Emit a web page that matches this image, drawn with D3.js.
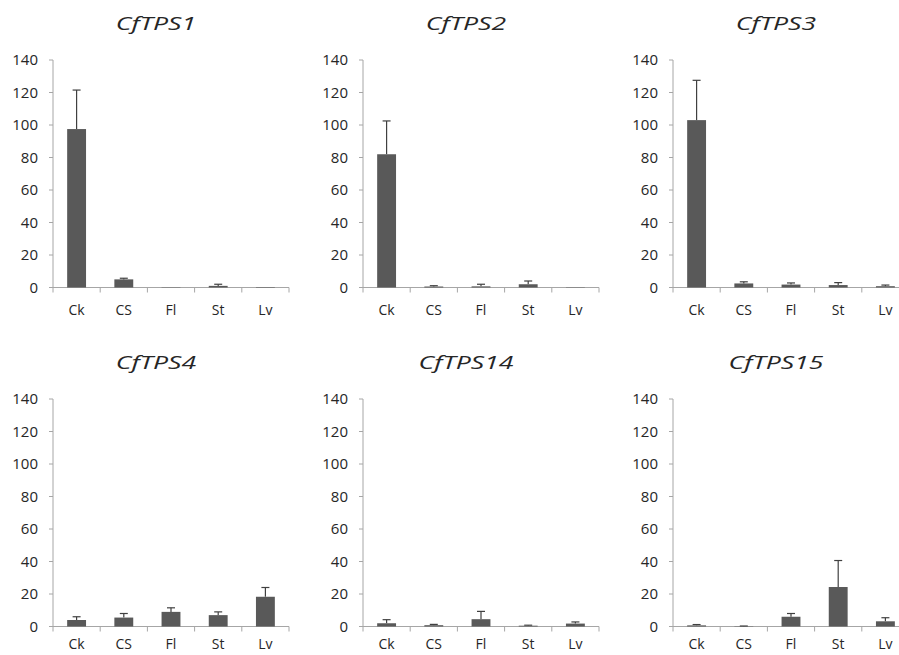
<!DOCTYPE html>
<html>
<head>
<meta charset="utf-8">
<script src="https://cdn.jsdelivr.net/npm/d3@7"></script>
<style>
  body { margin: 0; background: #fff; }
  text { font-family: "Open Sans", sans-serif; fill: #262626; }
</style>
</head>
<body>
<div id="vis"></div>
<script>
var width = 899;
var height = 655;

var genes = ['CfTPS1', 'CfTPS2', 'CfTPS3', 'CfTPS4', 'CfTPS14', 'CfTPS15'];
var tissues = ['Ck', 'CS', 'Fl', 'St', 'Lv'];
var yTicks = [0, 20, 40, 60, 80, 100, 120, 140];

// relative expression
var tps1 = [97.5, 5, 0.2, 1, 0.3];
var tps2 = [82, 0.6, 0.7, 2, 0.2];
var tps3 = [103, 2.5, 1.8, 1.5, 0.8];
var tps4 = [4, 5.5, 9, 7, 18.3];
var tps14 = [2, 0.8, 4.5, 0.5, 1.8];
var tps15 = [0.7, 0.2, 6, 24.3, 3.2];

// upper error bars
var tps1Err = [24, 0.7, 0, 1, 0];
var tps2Err = [20.5, 0.5, 1.3, 2, 0];
var tps3Err = [24.5, 1, 1, 1.5, 0.7];
var tps4Err = [2, 2.5, 2.5, 2, 5.7];
var tps14Err = [2.2, 0.5, 4.8, 0.3, 1];
var tps15Err = [0.5, 0.1, 2, 16.3, 2.2];

var means = [tps1, tps2, tps3, tps4, tps14, tps15];
var errors = [tps1Err, tps2Err, tps3Err, tps4Err, tps14Err, tps15Err];

var plotW = 236;
var plotH = 227.5;
var colStep = 310;
var rowStep = 339;

var svg = d3.select('#vis')
  .append('svg')
  .attr('width', width)
  .attr('height', height);

var x = d3.scaleBand()
  .domain(tissues)
  .range([0, plotW])
  .paddingInner(0.6)
  .paddingOuter(0.3);

var y = d3.scaleLinear()
  .domain([0, 140])
  .range([plotH, 0]);

genes.forEach(function (gene, gi) {
  var col = gi % 3;
  var row = Math.floor(gi / 3);
  var g = svg.append('g')
    .attr('transform', 'translate(' + (53 + col * colStep) + ',' + (60 + row * rowStep) + ')');

  var data = tissues.map(function (t, i) {
    return { tissue: t, value: means[gi][i], err: errors[gi][i] };
  });

  // title (the original lettering is drawn wide)
  g.append('text')
    .attr('text-anchor', 'middle')
    .attr('transform', 'translate(103,-30) scale(1.4,1)')
    .style('font-size', '19px')
    .style('font-style', 'italic')
    .text(gene);

  // y axis
  g.append('line')
    .attr('x1', 0).attr('x2', 0)
    .attr('y1', y(140)).attr('y2', y(0))
    .attr('stroke', '#a6a6a6');

  g.selectAll('.ytick')
    .data(yTicks)
    .enter()
    .append('line')
    .attr('x1', -4).attr('x2', 0)
    .attr('y1', function (d) { return y(d); })
    .attr('y2', function (d) { return y(d); })
    .attr('stroke', '#a6a6a6');

  g.selectAll('.ylabel')
    .data(yTicks)
    .enter()
    .append('text')
    .attr('text-anchor', 'end')
    .attr('x', -15)
    .attr('y', function (d) { return y(d); })
    .attr('dy', '0.36em')
    .style('font-size', '15px')
    .text(function (d) { return d; });

  // x axis
  g.append('line')
    .attr('x1', 0).attr('x2', plotW)
    .attr('y1', y(0)).attr('y2', y(0))
    .attr('stroke', '#a6a6a6');

  var edges = d3.range(tissues.length + 1).map(function (i) { return i * x.step(); });

  g.selectAll('.xtick')
    .data(edges)
    .enter()
    .append('line')
    .attr('x1', function (d) { return d; })
    .attr('x2', function (d) { return d; })
    .attr('y1', y(0)).attr('y2', y(0) + 5)
    .attr('stroke', '#a6a6a6');

  // bottom-row labels sit a little higher so they stay inside the page
  g.selectAll('.xlabel')
    .data(tissues)
    .enter()
    .append('text')
    .attr('text-anchor', 'middle')
    .attr('x', function (d) { return x(d) + x.bandwidth() / 2; })
    .attr('y', y(0) + (row === 0 ? 27 : 22))
    .style('font-size', '14px')
    .text(function (d) { return d; });

  // error bars (upper only)
  var eb = g.selectAll('.err')
    .data(data.filter(function (d) { return d.err > 0; }))
    .enter()
    .append('g')
    .attr('stroke', '#404040')
    .attr('stroke-width', 1.2);

  eb.append('line')
    .attr('x1', function (d) { return x(d.tissue) + x.bandwidth() / 2; })
    .attr('x2', function (d) { return x(d.tissue) + x.bandwidth() / 2; })
    .attr('y1', function (d) { return y(d.value); })
    .attr('y2', function (d) { return y(d.value + d.err); });

  eb.append('line')
    .attr('x1', function (d) { return x(d.tissue) + x.bandwidth() / 2 - 4; })
    .attr('x2', function (d) { return x(d.tissue) + x.bandwidth() / 2 + 4; })
    .attr('y1', function (d) { return y(d.value + d.err); })
    .attr('y2', function (d) { return y(d.value + d.err); });

  // bars
  g.selectAll('.bar')
    .data(data)
    .enter()
    .append('rect')
    .attr('x', function (d) { return x(d.tissue); })
    .attr('width', x.bandwidth())
    .attr('y', function (d) { return y(d.value); })
    .attr('height', function (d) { return y(0) - y(d.value); })
    .attr('fill', '#595959');
});
</script>
</body>
</html>
